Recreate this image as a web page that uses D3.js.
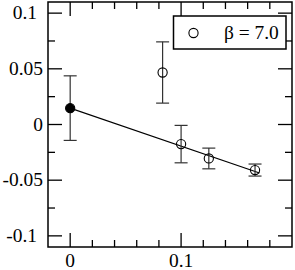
<!DOCTYPE html>
<html>
<head>
<meta charset="utf-8">
<script src="https://cdn.jsdelivr.net/npm/d3@7"></script>
</head>
<body style="margin:0">
<div id="chart"></div>
<script>
// data
const xVals = [0, 1 / 12, 0.1, 0.125, 1 / 6];
const yVals = [0.0147, 0.0467, -0.0176, -0.0305, -0.0409];
const yErrs = [0.029, 0.0275, 0.0168, 0.0093, 0.0054];
const filled = [true, false, false, false, false];
const fitX = [0, 0.1707];
const fitY = [0.0147, -0.0436];
const xMajor = [0, 0.1];
const xMinor = [0.02, 0.04, 0.06, 0.08, 0.12, 0.14, 0.16, 0.18];
const yMajor = [0.1, 0.05, 0, -0.05, -0.1];
const yMinor = [0.075, 0.025, -0.025, -0.075];
const xLabels = ['0', '0.1'];
const yLabels = ['0.1', '0.05', '0', '-0.05', '-0.1'];
const legendLabel = 'β = 7.0';

const W = 295, H = 270;
const margin = { top: 2, right: 3, bottom: 23, left: 48 };
const w = W - margin.left - margin.right;
const h = H - margin.top - margin.bottom;

const svg = d3.select('#chart').append('svg')
  .attr('width', W)
  .attr('height', H);

const x = d3.scaleLinear().domain([-0.02, 0.2]).range([margin.left, margin.left + w]);
const y = d3.scaleLinear().domain([-0.11, 0.11]).range([margin.top + h, margin.top]);

const x0 = margin.left, x1 = margin.left + w;
const y0 = margin.top + h, y1 = margin.top;

// text straight on the svg, slightly stretched sideways like the reference
function label(px, py, str, anchor) {
  svg.append('text')
    .attr('font-family', 'Liberation Serif')
    .attr('font-size', 18)
    .attr('text-anchor', anchor)
    .attr('transform', `translate(${px},${py}) scale(1.08,1)`)
    .text(str);
}

const majorLen = 14, minorLen = 7;
const tickStyle = sel => sel.attr('stroke', '#000').attr('stroke-width', 1.3);

// ticks on all four sides
xMajor.forEach(v => {
  svg.append('line').attr('x1', x(v)).attr('x2', x(v)).attr('y1', y0).attr('y2', y0 - majorLen).call(tickStyle);
  svg.append('line').attr('x1', x(v)).attr('x2', x(v)).attr('y1', y1).attr('y2', y1 + majorLen).call(tickStyle);
});
xMinor.forEach(v => {
  svg.append('line').attr('x1', x(v)).attr('x2', x(v)).attr('y1', y0).attr('y2', y0 - minorLen).call(tickStyle);
  svg.append('line').attr('x1', x(v)).attr('x2', x(v)).attr('y1', y1).attr('y2', y1 + minorLen).call(tickStyle);
});
yMajor.forEach(v => {
  svg.append('line').attr('x1', x0).attr('x2', x0 + majorLen).attr('y1', y(v)).attr('y2', y(v)).call(tickStyle);
  svg.append('line').attr('x1', x1).attr('x2', x1 - majorLen).attr('y1', y(v)).attr('y2', y(v)).call(tickStyle);
});
yMinor.forEach(v => {
  svg.append('line').attr('x1', x0).attr('x2', x0 + minorLen).attr('y1', y(v)).attr('y2', y(v)).call(tickStyle);
  svg.append('line').attr('x1', x1).attr('x2', x1 - minorLen).attr('y1', y(v)).attr('y2', y(v)).call(tickStyle);
});

// tick labels
xMajor.forEach((v, i) => label(x(v), y0 + 20, xLabels[i], 'middle'));
yMajor.forEach((v, i) => {
  const off = Math.abs(v) === 0.1 ? 11 : 5;
  label(x0 - off, y(v) + 6, yLabels[i], 'end');
});

// fit line
const line = d3.line().x(d => x(d[0])).y(d => y(d[1]));
svg.append('path')
  .datum(fitX.map((v, i) => [v, fitY[i]]))
  .attr('d', line)
  .attr('fill', 'none')
  .attr('stroke', '#000')
  .attr('stroke-width', 1.1);

// error bars
const pts = xVals.map((v, i) => ({ x: v, y: yVals[i], e: yErrs[i], f: filled[i] }));
const cap = 6.5;
const eb = svg.selectAll('.err').data(pts).enter().append('g').attr('class', 'err')
  .attr('stroke', '#333').attr('stroke-width', 1.2);
eb.append('line')
  .attr('x1', d => x(d.x)).attr('x2', d => x(d.x))
  .attr('y1', d => y(d.y + d.e)).attr('y2', d => y(d.y - d.e));
eb.append('line')
  .attr('x1', d => x(d.x) - cap).attr('x2', d => x(d.x) + cap)
  .attr('y1', d => y(d.y + d.e)).attr('y2', d => y(d.y + d.e));
eb.append('line')
  .attr('x1', d => x(d.x) - cap).attr('x2', d => x(d.x) + cap)
  .attr('y1', d => y(d.y - d.e)).attr('y2', d => y(d.y - d.e));

// markers
svg.selectAll('.pt').data(pts).enter().append('circle')
  .attr('class', 'pt')
  .attr('cx', d => x(d.x))
  .attr('cy', d => y(d.y))
  .attr('r', 4.6)
  .attr('fill', d => d.f ? '#000' : 'none')
  .attr('stroke', '#000')
  .attr('stroke-width', 1.1);

// frame
svg.append('rect')
  .attr('x', x0).attr('y', y1)
  .attr('width', w).attr('height', h)
  .attr('fill', 'none')
  .attr('stroke', '#000')
  .attr('stroke-width', 1.5);

// legend
svg.append('rect')
  .attr('x', 173.5).attr('y', 16)
  .attr('width', 112.5).attr('height', 33)
  .attr('fill', '#fff')
  .attr('stroke', '#000')
  .attr('stroke-width', 1.5);
svg.append('circle')
  .attr('cx', 193.5).attr('cy', 33)
  .attr('r', 4.6)
  .attr('fill', 'none')
  .attr('stroke', '#000')
  .attr('stroke-width', 1.1);
label(224, 39, legendLabel, 'start');
</script>
</body>
</html>
